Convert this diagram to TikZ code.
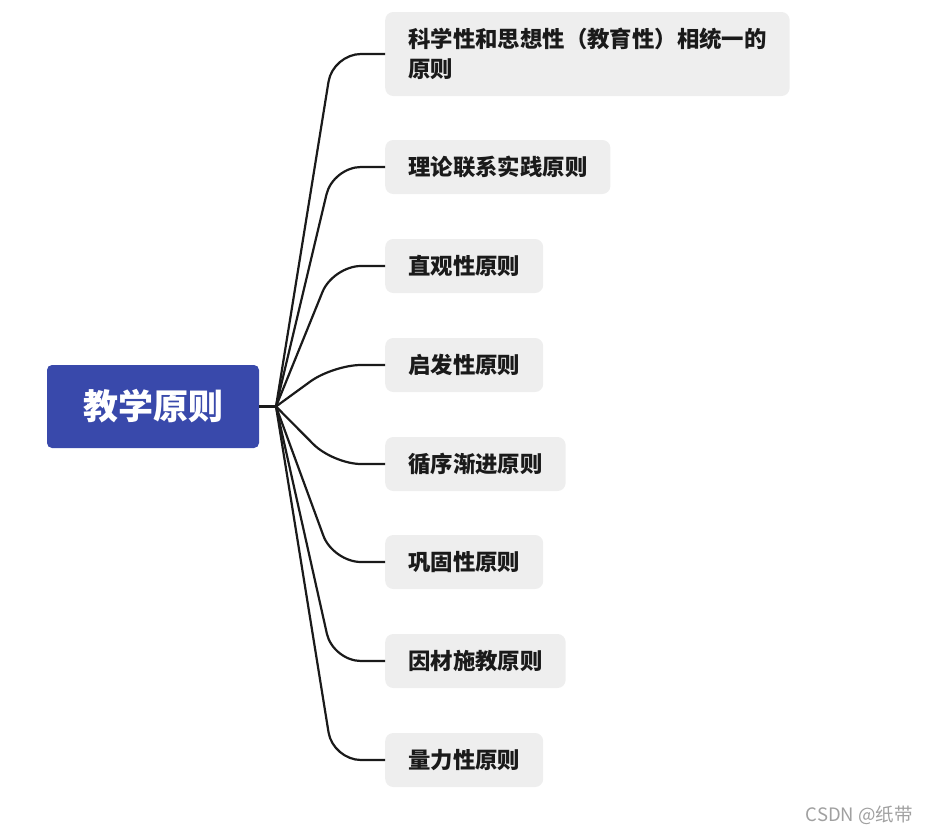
\documentclass[tikz,border=0pt]{standalone}
\usepackage{fontspec}
\setmainfont{Noto Sans CJK SC}
\definecolor{rootblue}{HTML}{3949AB}
\definecolor{leafgray}{HTML}{EEEEEE}
\definecolor{inkdark}{HTML}{1A1A1A}
\definecolor{wmgray}{HTML}{A0A0A0}
\begin{document}
\begin{tikzpicture}[x=1pt,y=-1pt,
  rootbox/.style={fill=rootblue,rounded corners=5pt,text=white,font=\fontsize{35}{40}\selectfont\bfseries,
    minimum width=212pt,minimum height=83pt,inner sep=0pt},
  leafbox/.style={fill=leafgray,rounded corners=8pt,text=inkdark,font=\fontsize{22.4}{30}\selectfont\bfseries,
    anchor=west,inner xsep=23pt,inner ysep=0pt,minimum height=54pt,align=left},
  link/.style={draw=inkdark,line width=2.2pt,rounded corners=28pt}]
\useasboundingbox (0,0) rectangle (927,833);
\node[rootbox] (root) at (153,406.5) {教学原则};
\coordinate (hub) at (276,406.5);
\coordinate (bend) at (333,0);
\node[leafbox,minimum height=84pt] (c1) at (385,54) {科学性和思想性（教育性）相统一的\\原则};
\node[leafbox] (c2) at (385,167) {理论联系实践原则};
\node[leafbox] (c3) at (385,266) {直观性原则};
\node[leafbox] (c4) at (385,365) {启发性原则};
\node[leafbox] (c5) at (385,464) {循序渐进原则};
\node[leafbox] (c6) at (385,562) {巩固性原则};
\node[leafbox] (c7) at (385,661) {因材施教原则};
\node[leafbox] (c8) at (385,760) {量力性原则};
\draw[link] (root.east) -- (hub);
\foreach \c in {c1,c2,c3,c4,c5,c6,c7,c8}
  \draw[link] (hub) -- (bend |- \c.west) -- (\c.west);
\node[text=wmgray,font=\fontsize{18.5}{22}\selectfont,anchor=east,inner sep=0pt] (wm) at (913,815) {CSDN @纸带};
\end{tikzpicture}
\end{document}
